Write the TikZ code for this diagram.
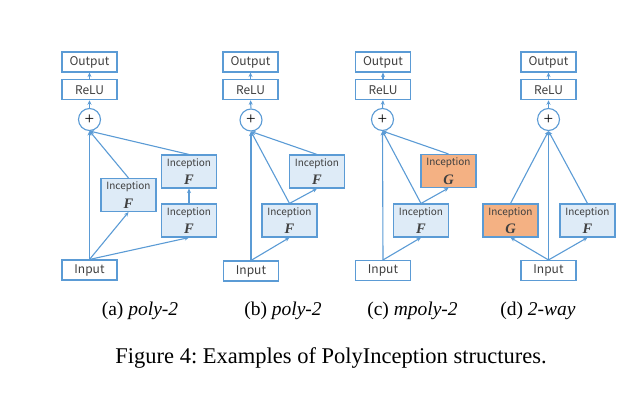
\documentclass[tikz,border=0pt]{standalone}
\usepackage{fontspec}
\setmainfont{Liberation Serif}
\newfontfamily\boxfont{Noto Sans CJK SC}
\usetikzlibrary{arrows.meta}
\definecolor{lblue}{HTML}{5B9BD5}
\definecolor{fblue}{HTML}{DEEBF7}
\definecolor{forange}{HTML}{F4B183}
\definecolor{tgray}{HTML}{404040}
\tikzset{
  plainbox/.style={draw=lblue, line width=1.1pt, fill=white, minimum width=55pt, minimum height=20pt, inner sep=0pt, font=\boxfont\fontsize{12}{12}\selectfont, text=tgray},
  incbox/.style={draw=lblue, line width=1.1pt, fill=fblue, minimum width=55pt, minimum height=33pt, inner sep=0pt, text=tgray},
  incorange/.style={incbox, fill=forange},
  plusnode/.style={draw=lblue, line width=1.1pt, fill=white, circle, minimum size=22pt, inner sep=0pt, font=\fontsize{17}{17}\selectfont, text=black},
  conn/.style={draw=lblue, line width=1.1pt, -{Stealth[length=4.5pt,width=4pt]}},
  subcap/.style={font=\fontsize{19.5}{22}\selectfont, anchor=center},
  inclabel/.style={font=\boxfont\fontsize{10}{10}\selectfont, text=tgray, inner sep=0pt},
  inclet/.style={font=\fontsize{14.5}{14}\selectfont\itshape\bfseries, text=tgray, inner sep=0pt},
}
\newcommand{\incnode}[4]{%
  \node[#1] (#2) at #3 {};
  \node[inclabel] (#2t) at ([yshift=-9pt]#2.north) {Inception};
  \node[inclet] (#2l) at ([yshift=8.5pt]#2.south) {#4};}
\begin{document}
\begin{tikzpicture}[x=1pt,y=-1pt]
\useasboundingbox (0,0) rectangle (642,404);
% panel a
\node[plainbox] (aout) at (89.5,62) {Output};
\node[plainbox] (arelu) at (89.5,89.7) {ReLU};
\node[plusnode] (aplus) at (89.5,119.5) {+};
\node[plainbox] (ain) at (89.5,270) {Input};
\incnode{incbox}{aA}{(128.5,195)}{F}
\incnode{incbox}{aB}{(189,171.5)}{F}
\incnode{incbox}{aC}{(189,220.5)}{F}
\draw[conn] (ain.north) -- (aplus.south);
\draw[conn] (ain.north) -- (aA.south);
\draw[conn] (ain.north) -- (aC.south);
\draw[conn] (aA.north) -- (aplus.south);
\draw[conn] (aB.north) -- (aplus.south);
\draw[conn] (aC.north) -- (aB.south);
\draw[conn] (aplus.north) -- (arelu.south);
\draw[conn] (arelu.north) -- (aout.south);
% panel b
\node[plainbox] (bout) at (250.5,62) {Output};
\node[plainbox] (brelu) at (250.5,89.7) {ReLU};
\node[plusnode] (bplus) at (251,120) {+};
\node[plainbox] (bin) at (251,271) {Input};
\incnode{incbox}{bA}{(289.5,220.5)}{F}
\incnode{incbox}{bB}{(317,171.5)}{F}
\draw[conn] (bin.north) -- (bplus.south);
\draw[conn] (bin.north) -- (bA.south);
\draw[conn] (bA.north) -- (bplus.south);
\draw[conn] (bA.north) -- (bB.south);
\draw[conn] (bB.north) -- (bplus.south);
\draw[conn] (bplus.north) -- (brelu.south);
\draw[conn] (brelu.north) -- (bout.south);
% panel c
\node[plainbox] (cout) at (383,62) {Output};
\node[plainbox] (crelu) at (383,89.7) {ReLU};
\node[plusnode] (cplus) at (382.5,119.5) {+};
\node[plainbox] (cin) at (383,270.5) {Input};
\incnode{incbox}{cA}{(421,220.5)}{F}
\incnode{incorange}{cB}{(448.5,171)}{G}
\draw[conn] (cin.north) -- (cplus.south);
\draw[conn] (cin.north) -- (cA.south);
\draw[conn] (cA.north) -- (cplus.south);
\draw[conn] (cA.north) -- (cB.south);
\draw[conn] (cB.north) -- (cplus.south);
\draw[conn] (cplus.north) -- (crelu.south);
\draw[conn] (crelu.north) -- (cout.south);
% panel d
\node[plainbox] (dout) at (548.5,62) {Output};
\node[plainbox] (drelu) at (548.5,89.7) {ReLU};
\node[plusnode] (dplus) at (548.5,119.5) {+};
\node[plainbox] (din) at (548.5,270.5) {Input};
\incnode{incorange}{dG}{(510.5,220.5)}{G}
\incnode{incbox}{dF}{(587.5,220.5)}{F}
\draw[conn] (din.north) -- (dplus.south);
\draw[conn] (din.north) -- (dG.south);
\draw[conn] (din.north) -- (dF.south);
\draw[conn] (dG.north) -- (dplus.south);
\draw[conn] (dF.north) -- (dplus.south);
\draw[conn] (dplus.north) -- (drelu.south);
\draw[conn] (drelu.north) -- (dout.south);
% captions
\node[subcap] (capa) at (140,311) {(a) \textit{poly-2}};
\node[subcap] (capb) at (283,311) {(b) \textit{poly-2}};
\node[subcap] (capc) at (412.5,311) {(c) \textit{mpoly-2}};
\node[subcap] (capd) at (538,311) {(d) \textit{2-way}};
\node[font=\fontsize{22.5}{24}\selectfont] (fig) at (331,358) {Figure 4:\ Examples of PolyInception structures.};
\end{tikzpicture}
\end{document}
